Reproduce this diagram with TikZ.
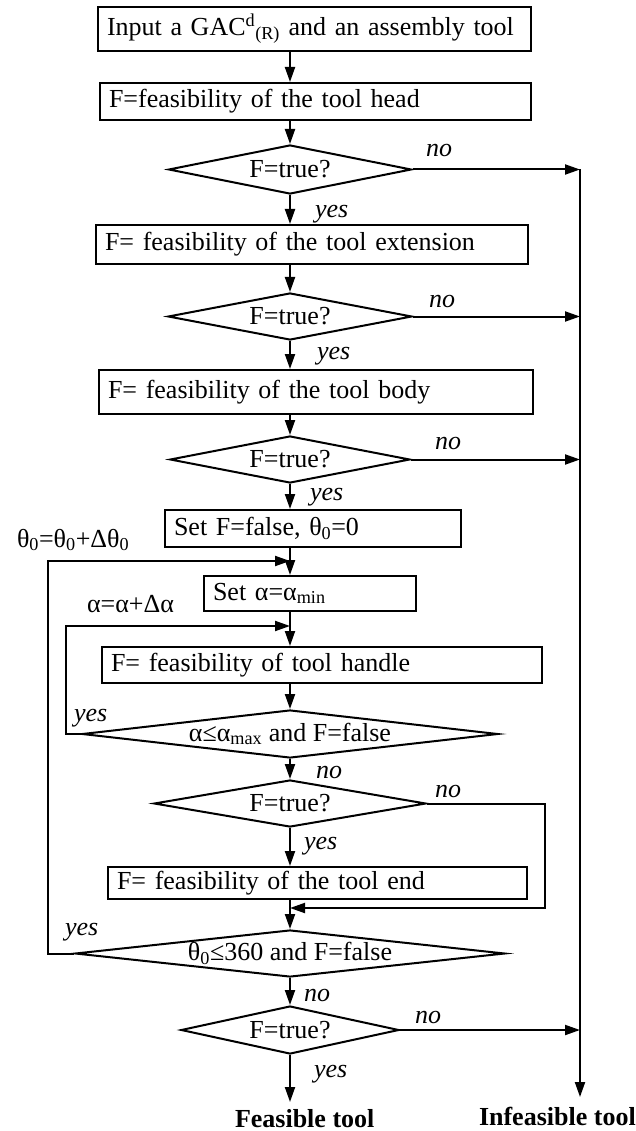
\documentclass[tikz,border=0pt]{standalone}
\usepackage{fontspec}
\setmainfont{Liberation Serif}
\usetikzlibrary{shapes.geometric,arrows.meta}
\begin{document}
\begin{tikzpicture}[x=1pt,y=-1pt, line width=2pt,
  font=\fontsize{26}{30}\selectfont,
  box/.style={draw, rectangle, inner xsep=9pt, inner ysep=0pt, align=left},
  dia/.style={draw, diamond, inner sep=0pt},
  plain/.style={inner sep=0pt, anchor=base west, font=\fontsize{26}{30}\selectfont},
  lbl/.style={inner sep=0pt, anchor=base west, font=\fontsize{26}{30}\selectfont\itshape},
  res/.style={inner sep=0pt, anchor=base west, font=\fontsize{26}{30}\selectfont\bfseries},
  arr/.style={-{Triangle[length=15pt,width=10pt]}},
]
\useasboundingbox (0,0) rectangle (635,1131);

% process boxes
\node[box, text width=415pt, minimum height=44pt] (in) at (314.5,29) {Input a GAC\textsuperscript{d}\textsubscript{(R)} and an assembly tool};
\node[box, text width=413pt, minimum height=37pt] (head) at (315.5,101.5) {F=feasibility of the tool head};
\node[box, text width=414pt, minimum height=39pt] (ext) at (312,244.5) {F= feasibility of the tool extension};
\node[box, text width=416pt, minimum height=44pt] (body) at (316,392) {F= feasibility of the tool body};
\node[box, text width=278pt, minimum height=37pt] (setf) at (313,528.5) {Set F=false, θ\textsubscript{0}=0};
\node[box, text width=194pt, minimum height=35pt] (seta) at (310,593.5) {Set α=α\textsubscript{min}};
\node[box, text width=422pt, minimum height=36pt] (hand) at (322,665) {F= feasibility of tool handle};
\node[box, text width=401pt, minimum height=32pt] (tend) at (317.5,883) {F= feasibility of the tool end};

% decisions
\node[dia, minimum width=243pt, minimum height=49pt] (d1) at (290,169.5) {\makebox[0pt]{F=true?}};
\node[dia, minimum width=244pt, minimum height=47pt] (d2) at (290,316.5) {\makebox[0pt]{F=true?}};
\node[dia, minimum width=240pt, minimum height=47pt] (d3) at (290,459.5) {\makebox[0pt]{F=true?}};
\node[dia, minimum width=416pt, minimum height=48pt] (d4) at (290,734) {\makebox[0pt]{α≤α\textsubscript{max} and F=false}};
\node[dia, minimum width=272pt, minimum height=47pt] (d5) at (290,803.5) {\makebox[0pt]{F=true?}};
\node[dia, minimum width=430pt, minimum height=47pt] (d6) at (290,953.5) {\makebox[0pt]{θ\textsubscript{0}≤360 and F=false}};
\node[dia, minimum width=218pt, minimum height=48pt] (d7) at (290,1030) {\makebox[0pt]{F=true?}};

% helper points
\coordinate (mx) at (290,0);
\coordinate (m1) at (290,561);
\coordinate (m2) at (290,626);
\coordinate (m3) at (290,908);
\coordinate (m3r) at (545,908);
\coordinate (lx1) at (48,0);
\coordinate (lx2) at (66,0);
\coordinate (r1) at (580,169.5);
\coordinate (r2) at (580,1097);
\coordinate (fe) at (290,1102);

% main flow
\draw[arr] (in.south -| mx) -- (head.north -| mx);
\draw[arr] (head.south -| mx) -- (d1.north);
\draw[arr] (d1.south) -- (ext.north -| mx);
\draw[arr] (ext.south -| mx) -- (d2.north);
\draw[arr] (d2.south) -- (body.north -| mx);
\draw[arr] (body.south -| mx) -- (d3.north);
\draw[arr] (d3.south) -- (setf.north -| mx);
\draw[arr] (setf.south -| mx) -- (seta.north -| mx);
\draw[arr] (seta.south -| mx) -- (hand.north -| mx);
\draw[arr] (hand.south -| mx) -- (d4.north);
\draw[arr] (d4.south) -- (d5.north);
\draw[arr] (d5.south) -- (tend.north -| mx);
\draw[arr] (tend.south -| mx) -- (d6.north);
\draw[arr] (d6.south) -- (d7.north);
\draw[arr] (d7.south) -- (fe);

% exits to the infeasible branch
\draw[arr] (d1.east) -- (r1);
\draw[arr] (d2.east) -- (d2.east -| r1);
\draw[arr] (d3.east) -- (d3.east -| r1);
\draw[arr] (d7.east) -- (d7.east -| r1);
\draw[arr] (r1) -- (r2);

% loops
\draw[arr] (d6.west) -- (d6.west -| lx1) |- (m1);
\draw[arr] (d4.west) -- (d4.west -| lx2) |- (m2);
\draw[arr] (d5.east) -| (m3r) -- (m3);

% labels
\node[lbl] (no1) at (425,157) {no};
\node[lbl] (yes1) at (314,218) {yes};
\node[lbl] (no2) at (428,307) {no};
\node[lbl] (yes2) at (316,359) {yes};
\node[lbl] (no3) at (434,449) {no};
\node[lbl] (yes3) at (309,500) {yes};
\node[plain] (th) at (16,547) {θ\textsubscript{0}=θ\textsubscript{0}+Δθ\textsubscript{0}};
\node[plain] (al) at (86,612) {α=α+Δα};
\node[lbl] (yes4) at (73,721) {yes};
\node[lbl] (no4) at (315,778) {no};
\node[lbl] (no5) at (434,797) {no};
\node[lbl] (yes5) at (303,849) {yes};
\node[lbl] (yes6) at (64,935) {yes};
\node[lbl] (no6) at (303,1001) {no};
\node[lbl] (no7) at (414,1023) {no};
\node[lbl] (yes7) at (313,1077) {yes};
\node[res] (feas) at (234,1127) {Feasible tool};
\node[res] (infeas) at (478,1125) {Infeasible tool};
\end{tikzpicture}
\end{document}
